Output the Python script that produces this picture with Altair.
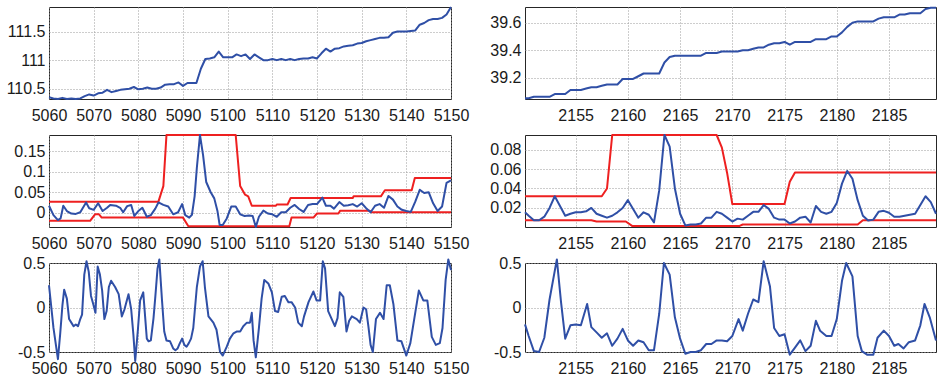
import altair as alt
import pandas as pd

# ---------------- data ----------------
# left column, top: price
LT_x = list(range(5060, 5151))
LT_y = [110.35, 110.33, 110.32, 110.34, 110.32, 110.33, 110.32, 110.33, 110.37, 110.40,
        110.38, 110.42, 110.43, 110.48, 110.44, 110.46, 110.48, 110.49, 110.50, 110.53,
        110.49, 110.50, 110.52, 110.50, 110.50, 110.52, 110.57, 110.58, 110.58, 110.61,
        110.55, 110.60, 110.60, 110.60, 110.85, 111.02, 111.03, 111.05, 111.15, 111.05,
        111.05, 111.05, 111.10, 111.07, 111.10, 111.02, 111.10, 111.05, 111.00, 111.00,
        111.02, 111.00, 111.02, 111.00, 111.02, 111.00, 111.02, 111.03, 111.03, 111.05,
        111.03, 111.12, 111.20, 111.15, 111.20, 111.21, 111.24, 111.25, 111.26, 111.29,
        111.30, 111.33, 111.35, 111.37, 111.39, 111.39, 111.40, 111.48, 111.50, 111.50,
        111.50, 111.51, 111.52, 111.62, 111.65, 111.70, 111.72, 111.72, 111.74, 111.80,
        111.93]

# left column, middle: blue series and red bands
LM_x = [5060, 5061, 5062, 5062.6, 5063.2, 5064, 5065, 5066, 5067,
        5068.3, 5069, 5070, 5071, 5072, 5073, 5073.7,
        5075, 5076, 5076.6, 5077.5, 5078.4, 5079.1, 5080, 5080.9, 5081.9, 5082.8,
        5083.8, 5084.5, 5085.6, 5086.7, 5087.8, 5088.9, 5089.8, 5090.5, 5091.4,
        5092, 5092.6, 5093.1, 5093.8, 5094.5, 5095.2, 5096.2, 5097, 5097.7, 5098.2,
        5098.9, 5099.8, 5100.8, 5101.8, 5102.8, 5103.8, 5104.8, 5105.6, 5106.3, 5107,
        5108, 5109, 5110, 5111, 5112, 5113, 5114, 5115, 5116, 5117, 5118, 5119, 5120,
        5121.2, 5122, 5123, 5123.8,
        5125, 5126, 5127, 5128, 5129, 5130, 5131, 5132, 5133, 5134, 5135, 5136, 5137,
        5138, 5139, 5140, 5141, 5142, 5143, 5144, 5145, 5146, 5147, 5148, 5149, 5150]
LM_y = [0.017, -0.006, -0.018, -0.014, 0.017, 0.004, -0.002, -0.003, 0.001,
        0.025, 0.011, 0.007, 0.023, 0.004, 0.012, 0.019,
        0.017, 0.011, 0.001, 0.016, 0.019, -0.008, 0.004, 0.012, -0.010, -0.006,
        0.010, 0.025, 0.019, 0.015, -0.004, 0.001, 0.021, -0.006, -0.012,
        -0.005, 0.040, 0.110, 0.190, 0.140, 0.075, 0.050, 0.035, 0.005, -0.030,
        -0.030, -0.014, 0.015, 0.015, -0.004, -0.008, -0.007, -0.008, -0.035, -0.010,
        0.005, -0.002, -0.004, -0.010, 0.001, 0.001, 0.012, 0.019, 0.009, 0.002, 0.019, 0.021, 0.021,
        0.037, 0.017, 0.017, 0.010,
        0.026, 0.017, 0.018, 0.021, 0.015, 0.023, 0.011, 0.001, 0.017, 0.021, 0.012, 0.041, 0.032,
        0.015, 0.007, 0.004, 0.002, 0.027, 0.056, 0.048, 0.050, 0.023, 0.004, 0.015, 0.073, 0.079]
LM_hi_x = [5060, 5084.5, 5085.6, 5086.3, 5101.8, 5102.8, 5103.9, 5104.6, 5105.4, 5110.8,
           5111, 5113.4, 5114.1, 5128, 5128.2, 5134.3, 5135.2, 5141.2, 5141.9, 5150]
LM_hi_y = [0.027, 0.027, 0.065, 0.19, 0.19, 0.065, 0.044, 0.04, 0.017, 0.017,
           0.02, 0.02, 0.036, 0.036, 0.04, 0.04, 0.055, 0.055, 0.085, 0.085]
LM_lo_x = [5060, 5069.2, 5070.3, 5071.2, 5071.8, 5090, 5091.2, 5113.8, 5114.3, 5119.2,
           5120, 5124.8, 5125.2, 5131.8, 5132.2, 5150]
LM_lo_y = [-0.02, -0.02, -0.004, -0.004, -0.012, -0.012, -0.033, -0.033, -0.012, -0.012,
           -0.002, -0.002, 0.005, 0.005, 0.001, 0.001]

# left column, bottom
LB_x = [5060, 5061, 5062, 5062.5, 5063, 5063.4, 5064, 5064.5, 5065, 5065.5,
        5066, 5066.5, 5067, 5067.4, 5067.9, 5068.4, 5068.9, 5069.4, 5069.9, 5070.4,
        5070.9, 5071.4, 5071.9, 5072.4, 5072.9, 5073.4, 5073.9, 5074.8, 5075.6, 5076.3,
        5076.9, 5077.8, 5078.4, 5078.9, 5079.3, 5079.9, 5080.4, 5081.1, 5081.9, 5082.3,
        5082.8, 5083.4, 5083.8, 5084.3, 5084.7, 5085.3, 5085.8, 5086.3, 5087.1, 5087.8,
        5088.3, 5088.8, 5089.3, 5089.8, 5090.3, 5090.8, 5091.3, 5091.8, 5092.3, 5093.1,
        5093.8, 5094.4, 5094.9, 5095.7, 5096.8, 5097.5, 5098.3, 5098.9, 5099.8, 5100.5,
        5101.3, 5102, 5102.8, 5103.5, 5104.3, 5105, 5105.4, 5105.8, 5106.3, 5107,
        5107.6, 5108.2, 5109.1, 5109.9, 5110.6, 5111.3, 5112.1, 5112.8, 5113.6, 5114.3,
        5115.1, 5115.8, 5116.6, 5117.1, 5118.1, 5119.2, 5119.9, 5120.7, 5121.3, 5121.8,
        5122.5, 5123.3, 5124, 5124.6, 5125.1, 5125.9, 5126.6, 5127.2, 5127.8, 5128.9,
        5129.6, 5130.4, 5131, 5131.5, 5132, 5132.5, 5133.2, 5134.1, 5134.9, 5135.6,
        5136.3, 5137.1, 5138, 5138.9, 5140, 5140.9, 5141.8, 5142.8, 5143.8, 5144.7,
        5145.7, 5146.6, 5147.5, 5148.1, 5148.8, 5149.4, 5150]
LB_y = [0.25, -0.23, -0.58, -0.3, 0.02, 0.2, 0.1, -0.13, -0.17, -0.21,
        -0.19, -0.21, -0.13, -0.08, 0.37, 0.52, 0.4, 0.13, 0.04, -0.06,
        0.46, 0.37, 0.19, -0.13, -0.04, 0.23, 0.3, 0.23, 0.15, -0.1,
        -0.02, 0.15, -0.02, -0.31, -0.6, -0.25, 0.08, 0.17, -0.35, -0.38,
        -0.37, -0.12, 0.12, 0.44, 0.54, 0.08, -0.27, -0.37, -0.38, -0.46,
        -0.48, -0.46, -0.4, -0.35, -0.42, -0.44, -0.4, -0.35, -0.23, 0.23,
        0.46, 0.52, 0.23, -0.1, -0.17, -0.25, -0.5, -0.54, -0.44, -0.35,
        -0.29, -0.27, -0.27, -0.21, -0.17, -0.17, -0.06, -0.37, -0.56, -0.23,
        0.1, 0.31, 0.27, 0.17, -0.04, -0.05, 0.12, 0.13, 0.06, 0.06,
        0.0, -0.17, -0.21, -0.1, 0.06, 0.18, 0.08, 0.08, 0.52, 0.44,
        -0.04, -0.13, -0.21, -0.12, 0.17, 0.12, -0.27, -0.15, -0.1, -0.13,
        -0.17, 0.0, -0.02, -0.21, -0.42, -0.5, -0.13, -0.06, -0.13, 0.25,
        0.25, 0.04, -0.37, -0.38, -0.54, -0.4, -0.12, 0.19, 0.08, 0.08,
        -0.33, -0.42, -0.4, -0.23, 0.31, 0.54, 0.42]

# right column: half-unit grid
R_x = [2150.15] + [2150.5 + 0.5 * i for i in range(79)]
RT_y = [39.05, 39.05, 39.06, 39.06, 39.06, 39.06, 39.08, 39.08, 39.08, 39.11,
        39.11, 39.11, 39.12, 39.13, 39.13, 39.14, 39.15, 39.15, 39.15, 39.19,
        39.19, 39.19, 39.21, 39.23, 39.23, 39.23, 39.23, 39.31, 39.35, 39.36,
        39.36, 39.36, 39.36, 39.36, 39.36, 39.38, 39.38, 39.38, 39.39, 39.39,
        39.39, 39.39, 39.40, 39.40, 39.41, 39.42, 39.42, 39.44, 39.45, 39.45,
        39.46, 39.44, 39.46, 39.46, 39.46, 39.46, 39.48, 39.48, 39.48, 39.50,
        39.50, 39.53, 39.57, 39.60, 39.61, 39.61, 39.61, 39.61, 39.63, 39.64,
        39.64, 39.64, 39.66, 39.66, 39.67, 39.67, 39.67, 39.70, 39.71, 39.71]
RM_y = [0.0155, 0.012, 0.0073, 0.0073, 0.011, 0.020, 0.032, 0.022, 0.012, 0.014,
        0.0155, 0.0155, 0.0165, 0.020, 0.014, 0.012, 0.010, 0.012, 0.0155, 0.020,
        0.028, 0.019, 0.010, 0.0155, 0.013, 0.0052, 0.038, 0.095, 0.083, 0.040,
        0.014, 0.002, 0.003, 0.003, 0.004, 0.010, 0.010, 0.016, 0.014, 0.010,
        0.006, 0.009, 0.008, 0.012, 0.016, 0.016, 0.023, 0.019, 0.010, 0.008,
        0.008, 0.004, 0.006, 0.010, 0.011, 0.005, 0.022, 0.016, 0.014, 0.016,
        0.025, 0.045, 0.058, 0.050, 0.028, 0.012, 0.007, 0.008, 0.016, 0.017,
        0.015, 0.011, 0.011, 0.012, 0.013, 0.014, 0.023, 0.032, 0.026, 0.014]
RM_hi_x = [2150.15, 2157.5, 2158, 2158.5, 2168.5, 2169, 2169.5, 2170, 2175, 2175.5, 2176, 2189.5]
RM_hi_y = [0.032, 0.032, 0.040, 0.095, 0.095, 0.082, 0.056, 0.024, 0.024, 0.047, 0.0565, 0.0565]
RM_lo_x = [2150.15, 2156.5, 2157, 2159.8, 2160.4, 2170.7, 2171, 2182, 2182.5, 2189.5]
RM_lo_y = [0.0073, 0.0073, 0.006, 0.006, 0.0015, 0.0015, 0.003, 0.003, 0.0073, 0.0073]

RB_x = [2150.15, 2150.5, 2151, 2151.5, 2152, 2152.5, 2153.2, 2153.6, 2154, 2154.5,
        2155, 2155.5, 2156.1, 2156.5, 2157, 2157.5, 2158, 2158.5, 2159, 2159.5,
        2160, 2160.5, 2161, 2161.5, 2162, 2162.5, 2163, 2163.45, 2164, 2164.5,
        2165, 2165.5, 2166, 2166.5, 2167, 2167.5, 2168, 2168.5, 2169, 2169.5,
        2170, 2170.6, 2171, 2171.5, 2172, 2172.5, 2173, 2173.6, 2174, 2174.5,
        2175, 2175.5, 2176, 2176.5, 2177, 2177.5, 2178, 2178.4, 2179, 2179.5,
        2180, 2180.5, 2180.9, 2181.5, 2182, 2182.4, 2182.9, 2183.5, 2183.9, 2184.5,
        2185, 2185.5, 2185.9, 2186.4, 2186.9, 2187.5, 2188, 2188.4, 2188.9, 2189.5]
RB_y = [-0.19, -0.32, -0.49, -0.5, -0.34, 0.09, 0.54, 0.06, -0.35, -0.2,
        -0.19, -0.2, 0.04, -0.22, -0.28, -0.34, -0.29, -0.43, -0.35, -0.24,
        -0.37, -0.43, -0.37, -0.39, -0.48, -0.48, -0.07, 0.5, 0.37, -0.11,
        -0.35, -0.52, -0.5, -0.5, -0.48, -0.41, -0.41, -0.37, -0.37, -0.38,
        -0.32, -0.13, -0.26, -0.07, 0.09, 0.06, 0.52, 0.24, -0.23, -0.32,
        -0.3, -0.53, -0.45, -0.37, -0.49, -0.43, -0.15, -0.26, -0.32, -0.32,
        -0.13, 0.3, 0.5, 0.35, -0.32, -0.49, -0.53, -0.53, -0.34, -0.26,
        -0.32, -0.43, -0.41, -0.46, -0.39, -0.37, -0.2, 0.04, -0.11, -0.37]

L_xticks = [5060, 5070, 5080, 5090, 5100, 5110, 5120, 5130, 5140, 5150]
R_xticks = [2155, 2160, 2165, 2170, 2175, 2180, 2185]

# ---------------- style ----------------
FONT = "Liberation Sans"
BLUE = "#2f4fa6"
RED = "#ee2020"


def panel(series, xdom, xticks, ydom, yticks, w, h):
    xenc = alt.X("x:Q", title=None,
                 scale=alt.Scale(domain=xdom, nice=False, zero=False),
                 axis=alt.Axis(values=xticks, labelExpr="'' + datum.value",
                               labelOverlap=False, labelFlush=False, labelBound=False))
    yenc = alt.Y("y:Q", title=None,
                 scale=alt.Scale(domain=ydom, nice=False, zero=False),
                 axis=alt.Axis(values=yticks, labelExpr="'' + datum.value",
                               labelOverlap=False, labelFlush=False, labelBound=False))
    layers = []
    for xs, ys, color in series:
        df = pd.DataFrame({"x": xs, "y": ys})
        layers.append(
            alt.Chart(df).mark_line(color=color, strokeWidth=2, strokeJoin="round")
            .encode(x=xenc, y=yenc)
        )
    return alt.layer(*layers).properties(width=w, height=h)


LW, RW = 402, 411
L1 = panel([(LT_x, LT_y, BLUE)], [5060, 5150], L_xticks,
           [110.32, 111.93], [110.5, 111, 111.5], LW, 92)
L2 = panel([(LM_hi_x, LM_hi_y, RED), (LM_lo_x, LM_lo_y, RED), (LM_x, LM_y, BLUE)],
           [5060, 5150], L_xticks, [-0.035, 0.19], [0, 0.05, 0.1, 0.15], LW, 92)
L3 = panel([(LB_x, LB_y, BLUE)], [5060, 5150], L_xticks,
           [-0.5, 0.5], [-0.5, 0, 0.5], LW, 89)

R1 = panel([(R_x, RT_y, BLUE)], [2150.15, 2189.5], R_xticks,
           [39.044, 39.715], [39.2, 39.4, 39.6], RW, 92)
R2 = panel([(RM_hi_x, RM_hi_y, RED), (RM_lo_x, RM_lo_y, RED), (R_x, RM_y, BLUE)],
           [2150.15, 2189.5], R_xticks, [0.0004, 0.095], [0.02, 0.04, 0.06, 0.08], RW, 92)
R3 = panel([(RB_x, RB_y, BLUE)], [2150.15, 2189.5], R_xticks,
           [-0.5, 0.5], [-0.5, 0, 0.5], RW, 89)

chart = (
    alt.concat(L1, R1, L2, R2, L3, R3, columns=2,
               spacing={"row": 36, "column": 74}, bounds="flush")
    .properties(padding={"left": 5, "top": 5, "right": 0, "bottom": 0})
    .configure_view(stroke="#262626", strokeWidth=1)
    .configure_axis(labelFont=FONT, labelFontSize=16, labelColor="#1a1a1a",
                    domain=False, ticks=False, tickSize=0,
                    gridColor="#9a9a9a", gridDash=[1, 2], gridWidth=1, gridOpacity=1)
    .configure_axisX(labelPadding=8)
    .configure_axisY(labelPadding=4)
)

chart.save("out.html", embed_options={"renderer": "svg", "actions": False})
